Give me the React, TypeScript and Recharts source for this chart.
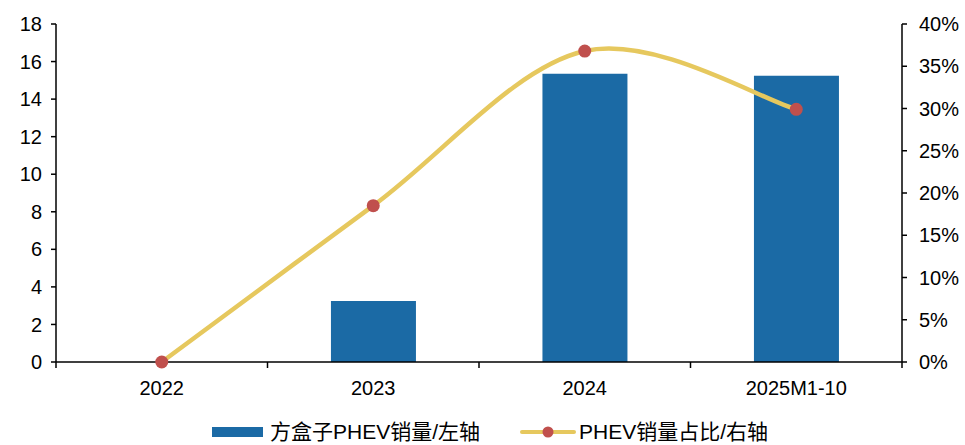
import React from "react";
import {
  ComposedChart,
  Bar,
  Line,
  XAxis,
  YAxis,
  Legend,
} from "recharts";

const categories = ["2022", "2023", "2024", "2025M1-10"];
const salesValues = [0, 3.25, 15.35, 15.25];
const shareValues = [0, 18.5, 36.8, 29.9];
const leftTicks = [0, 2, 4, 6, 8, 10, 12, 14, 16, 18];
const rightTicks = [0, 5, 10, 15, 20, 25, 30, 35, 40];

const barName = "方盒子PHEV销量/左轴";
const lineName = "PHEV销量占比/右轴";

const data = categories.map((c, i) => ({
  name: c,
  sales: salesValues[i],
  share: shareValues[i],
}));

const barColor = "#1B6AA5";
const lineColor = "#E6C85E";
const dotColor = "#C0504D";
const font = "'Liberation Sans', Arial, sans-serif";
const legendFont = "'Liberation Sans', 'Noto Sans CJK SC', sans-serif";

const W = 965;
const H = 445;
const plotLeft = 56;
const plotRight = 63;
const halfBand = (W - plotLeft - plotRight) / categories.length / 2;

// Excel-style smoothed line (Catmull-Rom as cubic Bezier)
function smoothCurve(context: any) {
  let pts: number[][] = [];
  return {
    areaStart() {},
    areaEnd() {},
    lineStart() {
      pts = [];
    },
    point(x: number, y: number) {
      pts.push([+x, +y]);
    },
    lineEnd() {
      const n = pts.length;
      if (!n) return;
      context.moveTo(pts[0][0], pts[0][1]);
      for (let i = 0; i < n - 1; i++) {
        const p0 = pts[Math.max(i - 1, 0)];
        const p1 = pts[i];
        const p2 = pts[i + 1];
        const p3 = pts[Math.min(i + 2, n - 1)];
        context.bezierCurveTo(
          p1[0] + (p2[0] - p0[0]) / 6,
          p1[1] + (p2[1] - p0[1]) / 6,
          p2[0] - (p3[0] - p1[0]) / 6,
          p2[1] - (p3[1] - p1[1]) / 6,
          p2[0],
          p2[1]
        );
      }
    },
  };
}

function XTick(props: any) {
  const { x, y, payload, index } = props;
  const last = index === categories.length - 1;
  return (
    <g>
      <line x1={x - halfBand} y1={y} x2={x - halfBand} y2={y + 6} stroke="#000" strokeWidth={1.5} />
      {last && (
        <line x1={x + halfBand} y1={y} x2={x + halfBand} y2={y + 6} stroke="#000" strokeWidth={1.5} />
      )}
      <text x={x} y={y + 33} textAnchor="middle" fontSize={20} fontFamily={font} fill="#000">
        {payload.value}
      </text>
    </g>
  );
}

function LegendContent() {
  return (
    <div
      style={{
        display: "flex",
        alignItems: "center",
        paddingLeft: 212,
        fontFamily: legendFont,
        fontSize: 21,
        color: "#000",
        height: 26,
        lineHeight: "26px",
      }}
    >
      <span style={{ width: 51, height: 10, background: barColor, marginRight: 7 }} />
      <span style={{ marginRight: 40 }}>{barName}</span>
      <svg width={56} height={14} style={{ marginRight: 3 }}>
        <line x1={2} y1={7} x2={54} y2={7} stroke={lineColor} strokeWidth={4} strokeLinecap="round" />
        <circle cx={28} cy={7} r={5.5} fill={dotColor} />
      </svg>
      <span>{lineName}</span>
    </div>
  );
}

export default function App() {
  return (
    <div style={{ position: "absolute", left: 0, top: 0, width: W, height: H, background: "#fff" }}>
      <ComposedChart
        width={W}
        height={H}
        data={data}
        margin={{ top: 24, right: 0, left: 0, bottom: 0 }}
        barCategoryGap="30%"
      >
        <XAxis
          dataKey="name"
          axisLine={{ stroke: "#000", strokeWidth: 1.5 }}
          tickLine={false}
          tickSize={0}
          tickMargin={0}
          height={57}
          tick={<XTick />}
          interval={0}
        />
        <YAxis
          yAxisId="left"
          domain={[0, 18]}
          ticks={leftTicks}
          width={plotLeft}
          axisLine={{ stroke: "#000", strokeWidth: 1.5 }}
          tickLine={{ stroke: "#000", strokeWidth: 1.5 }}
          tickSize={5}
          tickMargin={9}
          tick={{ fontSize: 20, fill: "#000", fontFamily: font }}
          interval={0}
        />
        <YAxis
          yAxisId="right"
          orientation="right"
          domain={[0, 40]}
          ticks={rightTicks}
          width={plotRight}
          axisLine={{ stroke: "#000", strokeWidth: 1.5 }}
          tickLine={{ stroke: "#000", strokeWidth: 1.5 }}
          tickSize={5}
          tickMargin={12}
          tick={{ fontSize: 20, fill: "#000", fontFamily: font }}
          tickFormatter={(v: number) => `${v}%`}
          interval={0}
        />
        <Legend verticalAlign="bottom" height={26} content={<LegendContent />} />
        <Bar
          yAxisId="left"
          dataKey="sales"
          name={barName}
          fill={barColor}
          isAnimationActive={false}
        />
        <Line
          yAxisId="right"
          type={smoothCurve as any}
          dataKey="share"
          name={lineName}
          stroke={lineColor}
          strokeWidth={4.5}
          dot={{ r: 6.5, fill: dotColor, stroke: dotColor, strokeWidth: 0 }}
          activeDot={false}
          isAnimationActive={false}
        />
      </ComposedChart>
    </div>
  );
}
